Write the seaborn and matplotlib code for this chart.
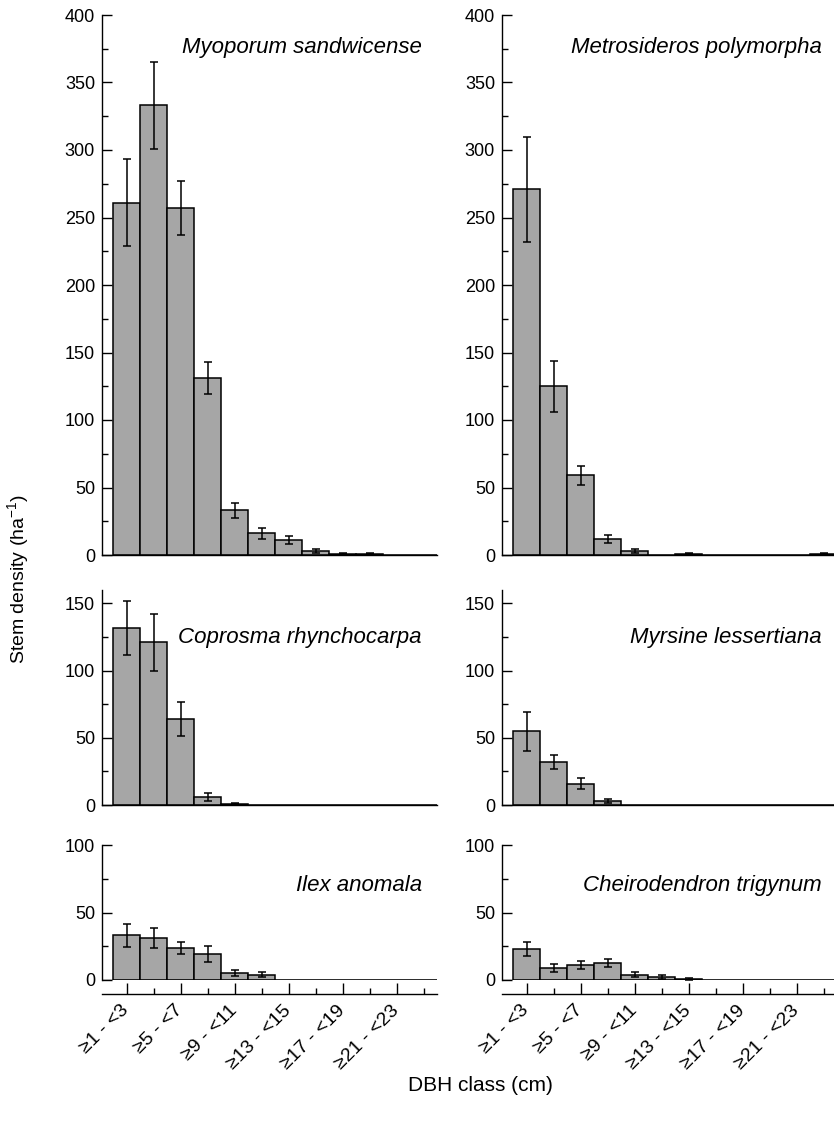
import numpy as np
import pandas as pd
import matplotlib
matplotlib.use("Agg")
import matplotlib.pyplot as plt
import seaborn as sns
from matplotlib.ticker import MultipleLocator

# ---------------- data ----------------
dbh_classes = ["≥1 - <3", "≥3 - <5", "≥5 - <7", "≥7 - <9", "≥9 - <11", "≥11 - <13",
               "≥13 - <15", "≥15 - <17", "≥17 - <19", "≥19 - <21", "≥21 - <23", "≥23 - <25"]

species = ["Myoporum sandwicense", "Metrosideros polymorpha",
           "Coprosma rhynchocarpa", "Myrsine lessertiana",
           "Ilex anomala", "Cheirodendron trigynum"]

myoporum = [261, 333, 257, 131, 33, 16, 11, 3, 1, 1, 0, 0]
myoporum_se = [32, 32.5, 20, 12, 5.3, 4, 3, 1.2, 0.6, 0.6, 0, 0]

metrosideros = [271, 125, 59, 12, 3, 0, 1, 0, 0, 0, 0, 1]
metrosideros_se = [39, 19, 7, 3, 1.2, 0, 0.6, 0, 0, 0, 0, 0.6]

coprosma = [132, 121, 64, 6, 1, 0, 0, 0, 0, 0, 0, 0]
coprosma_se = [20, 21.5, 13, 2.7, 0.5, 0, 0, 0, 0, 0, 0, 0]

myrsine = [55, 32, 16, 3, 0, 0, 0, 0, 0, 0, 0, 0]
myrsine_se = [14.5, 5.5, 4, 1.5, 0, 0, 0, 0, 0, 0, 0, 0]

ilex = [33, 31, 24, 19, 5, 4, 0, 0, 0, 0, 0, 0]
ilex_se = [8.6, 7.4, 4.4, 6, 2.2, 1.8, 0, 0, 0, 0, 0, 0]

cheirodendron = [23, 9, 11, 12.5, 4, 2.5, 0.8, 0, 0, 0, 0, 0]
cheirodendron_se = [5.4, 3, 2.8, 3.2, 1.7, 1.5, 0.5, 0, 0, 0, 0, 0]

values = [myoporum, metrosideros, coprosma, myrsine, ilex, cheirodendron]
errors = [myoporum_se, metrosideros_se, coprosma_se, myrsine_se, ilex_se, cheirodendron_se]
row_ymax = [400, 160, 100]

# ---------------- style ----------------
sns.set_theme(style="ticks")
plt.rcParams["font.family"] = ["Liberation Sans", "DejaVu Sans"]
plt.rcParams["mathtext.fontset"] = "custom"
plt.rcParams["mathtext.rm"] = "Liberation Sans"
plt.rcParams["mathtext.it"] = "Liberation Sans:italic"
plt.rcParams["axes.linewidth"] = 1.0
plt.rcParams["axes.edgecolor"] = "black"
plt.rcParams["text.color"] = "black"
plt.rcParams["axes.labelcolor"] = "black"
plt.rcParams["xtick.color"] = "black"
plt.rcParams["ytick.color"] = "black"
plt.rcParams["xtick.direction"] = "in"
plt.rcParams["ytick.direction"] = "in"

W, H = 834, 1121
fig = plt.figure(figsize=(W / 100, H / 100), dpi=100)

col_x = [102, 502]
ax_w = 335
rows_px = [(15, 555), (590, 805), (845, 980)]   # top, bottom in pixels
label_y = [0.939, 0.78, 0.70]

bar_color = "#a6a6a6"

for i in range(6):
    r, c = divmod(i, 2)
    top, bot = rows_px[r]
    ax = fig.add_axes([col_x[c] / W, 1 - bot / H, ax_w / W, (bot - top) / H])
    df = pd.DataFrame({"dbh": dbh_classes, "density": values[i]})
    sns.barplot(data=df, x="dbh", y="density", order=dbh_classes, color=bar_color,
                saturation=1, edgecolor="black", linewidth=1.1, width=1.0,
                errorbar=None, ax=ax)
    v = np.array(values[i], dtype=float)
    e = np.array(errors[i], dtype=float)
    mask = e > 0
    xs = np.arange(len(dbh_classes))
    ax.errorbar(xs[mask], v[mask], yerr=e[mask], fmt="none", ecolor="black",
                elinewidth=1.1, capsize=3, capthick=1.1, zorder=5)
    ax.set_xlim(-0.91, 11.5)
    ax.set_ylim(0, row_ymax[r])
    ax.set_xlabel("")
    ax.set_ylabel("")
    sns.despine(ax=ax)
    ax.yaxis.set_major_locator(MultipleLocator(50))
    ax.yaxis.set_minor_locator(MultipleLocator(25))
    ax.tick_params(axis="y", which="major", direction="in", length=7, width=1,
                   labelsize=13, pad=5, color="black", labelcolor="black")
    ax.tick_params(axis="y", which="minor", direction="in", length=4, width=1, color="black")
    ax.text(0.955, label_y[r], species[i], transform=ax.transAxes, ha="right",
            va="center", style="italic", fontsize=16, color="black")
    if r < 2:
        ax.tick_params(axis="x", which="both", bottom=False, labelbottom=False)
    else:
        ax.spines["bottom"].set_position(("outward", 10))
        ax.axhline(0, color="black", lw=1.0, zorder=6)
        ax.set_xticks(xs[::2])
        ax.set_xticklabels(dbh_classes[::2], rotation=45, ha="right",
                           va="center", rotation_mode="anchor", fontsize=14,
                           color="black")
        ax.set_xticks(xs[1::2], minor=True)
        ax.tick_params(axis="x", which="major", direction="in", length=8, width=1,
                       pad=10, color="black")
        ax.tick_params(axis="x", which="minor", direction="in", length=4, width=1,
                       color="black")

fig.text(0.0216, 0.483, "Stem density (ha$^{-1}$)", rotation=90, ha="center",
         va="center", fontsize=14)
fig.text(0.576, 0.032, "DBH class (cm)", ha="center", va="center", fontsize=15)

fig.savefig("out.png", dpi=100)
